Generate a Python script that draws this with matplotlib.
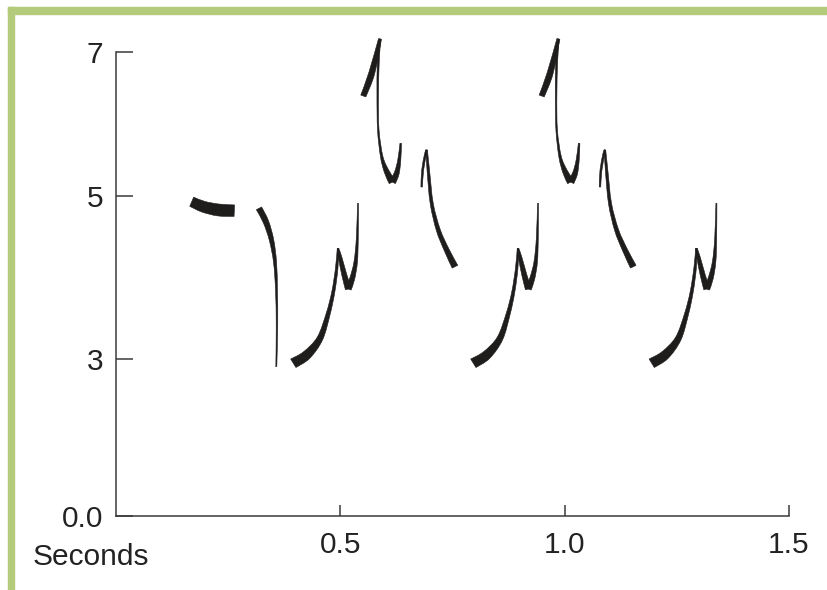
import numpy as np
import matplotlib
matplotlib.use('Agg')
import matplotlib.pyplot as plt
from matplotlib.patches import PathPatch, Rectangle
from matplotlib.path import Path
from matplotlib.transforms import IdentityTransform
from matplotlib.ticker import NullLocator

# ---------------- axis values ----------------
y_ticks = [0, 3, 5, 7]
y_tick_labels = ['0.0', '3', '5', '7']
x_ticks = [0.5, 1.0, 1.5]
x_tick_labels = ['0.5', '1.0', '1.5']
x_label = 'Seconds'

# ---------------- song elements (time in s, frequency in kHz) ----------------
# single elements (absolute time)
A_t = [0.1687, 0.1946, 0.2280, 0.2637]
A_f = [4.930, 4.869, 4.829, 4.820]
B_t = [0.3187, 0.3343, 0.3466, 0.3544, 0.3577, 0.3588, 0.3573]
B_f = [4.849, 4.682, 4.461, 4.192, 3.849, 3.420, 2.859]

# repeated syllable C (time relative to onset)
C_onsets = [0.3952, 0.7964, 1.1940]
C_rise_t = [0.0, 0.0299, 0.0595, 0.0780, 0.0892, 0.0967, 0.0996]
C_rise_f = [2.924, 3.053, 3.257, 3.563, 3.828, 4.115, 4.359]
C_fall_t = [0.0996, 0.1041, 0.1137, 0.1226]
C_fall_f = [4.359, 4.253, 4.032, 3.861]
C_up_t = [0.1226, 0.1315, 0.1391, 0.1426, 0.1442]
C_up_f = [3.861, 3.992, 4.195, 4.482, 4.911]

# repeated syllable D
D_onsets = [0.5512, 0.9488]
D_diag_t = [0.0, 0.0187, 0.0372]
D_diag_f = [6.389, 6.704, 7.181]
D_desc_t = [0.0372, 0.0334, 0.0321, 0.0334, 0.0410, 0.0522, 0.0646]
D_desc_f = [7.181, 6.871, 6.379, 5.917, 5.546, 5.338, 5.194]
D_up_t = [0.0646, 0.0744, 0.0802, 0.0834]
D_up_f = [5.194, 5.315, 5.500, 5.732]

# repeated syllable E
E_onsets = [0.6813, 1.0787]
E_hook_t = [0.0, 0.0022, 0.0089, 0.0111]
E_hook_f = [5.125, 5.361, 5.593, 5.639]
E_desc_t = [0.0111, 0.0147, 0.0223, 0.0370, 0.0557, 0.0742]
E_desc_f = [5.639, 5.361, 4.911, 4.584, 4.339, 4.134]

# ---------------- stroke widths (points) ----------------
A_w = [7.2, 7.9, 8.6, 8.3]
B_w = [4.3, 4.0, 3.2, 2.2, 1.4, 1.1, 0.7]
C_rise_w = [7.2, 6.5, 4.3, 2.9, 2.2, 1.8, 1.1]
C_fall_w = [1.1, 2.5, 3.6, 4.3]
C_up_w = [4.3, 3.6, 2.5, 1.4, 0.7]
D_diag_w = [3.9, 4.3, 2.2]
D_desc_w = [1.1, 1.4, 1.1, 1.1, 1.8, 3.6, 5.0]
D_up_w = [5.0, 3.6, 2.2, 1.1]
E_hook_w = [1.1, 1.4, 1.4, 1.1]
E_desc_w = [1.1, 1.8, 2.2, 2.9, 3.6, 4.5]

INK = '#1f1c1c'
AXC = '#3a3a3a'
TXT = '#222222'
GREEN = '#b4cb7c'

plt.rcParams['font.family'] = ['Liberation Sans Narrow', 'Liberation Sans', 'DejaVu Sans']

W, H = 828, 590
fig = plt.figure(figsize=(W / 100, H / 100), dpi=100)
ax = fig.add_axes([116 / W, 74 / H, 673 / W, 464 / H])

# piecewise-linear frequency axis as printed
kv = [-10, 0, 3, 5, 7, 20]
kp = [-522.3, 0, 156.7, 320, 464, 1400]
def fwd(v):
    return np.interp(v, kv, kp)
def inv(p):
    return np.interp(p, kp, kv)
ax.set_yscale('function', functions=(fwd, inv))
ax.set_xlim(0, 1.5)
ax.set_ylim(0, 7)

ax.set_yticks(y_ticks)
ax.set_yticklabels(y_tick_labels)
ax.set_xticks(x_ticks)
ax.set_xticklabels(x_tick_labels)
ax.yaxis.set_minor_locator(NullLocator())
ax.xaxis.set_minor_locator(NullLocator())

for s in ['top', 'right']:
    ax.spines[s].set_visible(False)
for s in ['left', 'bottom']:
    ax.spines[s].set_color(AXC)
    ax.spines[s].set_linewidth(1.1)
ax.tick_params(axis='y', direction='in', length=12.2, width=1.1, color=AXC,
               pad=9, labelsize=21.5, labelcolor=TXT)
ax.tick_params(axis='x', direction='in', length=7.9, width=1.1, color=AXC,
               pad=11, labelsize=21.5, labelcolor=TXT)
ax.patch.set_alpha(0)

fig.text(33 / W, 1 - 557 / H, x_label, ha='left', va='center',
         fontsize=21.5, color=TXT)


def smooth_codes(p):
    """Catmull-Rom -> cubic Bezier through the points p (display coords)."""
    n = len(p)
    verts = []
    codes = []
    for i in range(n - 1):
        p0 = p[i - 1] if i > 0 else p[i]
        p1 = p[i]
        p2 = p[i + 1]
        p3 = p[i + 2] if i + 2 < n else p[i + 1]
        c1 = p1 + (p2 - p0) / 6.0
        c2 = p2 - (p3 - p1) / 6.0
        verts += [c1, c2, p2]
        codes += [Path.CURVE4] * 3
    return verts, codes


def stroke(t, f, w_pt):
    pts = ax.transData.transform(np.column_stack([t, f]))
    d = np.gradient(pts, axis=0)
    nrm = np.column_stack([-d[:, 1], d[:, 0]])
    nrm /= np.linalg.norm(nrm, axis=1)[:, None]
    half = np.asarray(w_pt) * fig.dpi / 72 / 2
    left = pts + nrm * half[:, None]
    right = (pts - nrm * half[:, None])[::-1]
    verts = [left[0]]
    codes = [Path.MOVETO]
    v, c = smooth_codes(left)
    verts += v
    codes += c
    verts.append(right[0])
    codes.append(Path.LINETO)
    v, c = smooth_codes(right)
    verts += v
    codes += c
    verts.append(left[0])
    codes.append(Path.CLOSEPOLY)
    patch = PathPatch(Path(np.array(verts), codes), fc=INK, ec=INK, lw=0.4,
                      transform=IdentityTransform(), clip_on=False)
    ax.add_artist(patch)


stroke(A_t, A_f, A_w)
stroke(B_t, B_f, B_w)
for on in C_onsets:
    stroke(np.add(C_rise_t, on), C_rise_f, C_rise_w)
    stroke(np.add(C_fall_t, on), C_fall_f, C_fall_w)
    stroke(np.add(C_up_t, on), C_up_f, C_up_w)
for on in D_onsets:
    stroke(np.add(D_diag_t, on), D_diag_f, D_diag_w)
    stroke(np.add(D_desc_t, on), D_desc_f, D_desc_w)
    stroke(np.add(D_up_t, on), D_up_f, D_up_w)
for on in E_onsets:
    stroke(np.add(E_hook_t, on), E_hook_f, E_hook_w)
    stroke(np.add(E_desc_t, on), E_desc_f, E_desc_w)

# green frame
fig.patches.append(Rectangle((8 / W, (H - 14) / H), (W - 8) / W, 7 / H,
                             transform=fig.transFigure, color=GREEN, zorder=0))
fig.patches.append(Rectangle((8 / W, 0), 6 / W, (H - 7) / H,
                             transform=fig.transFigure, color=GREEN, zorder=0))

fig.savefig('out.png', dpi=100)
